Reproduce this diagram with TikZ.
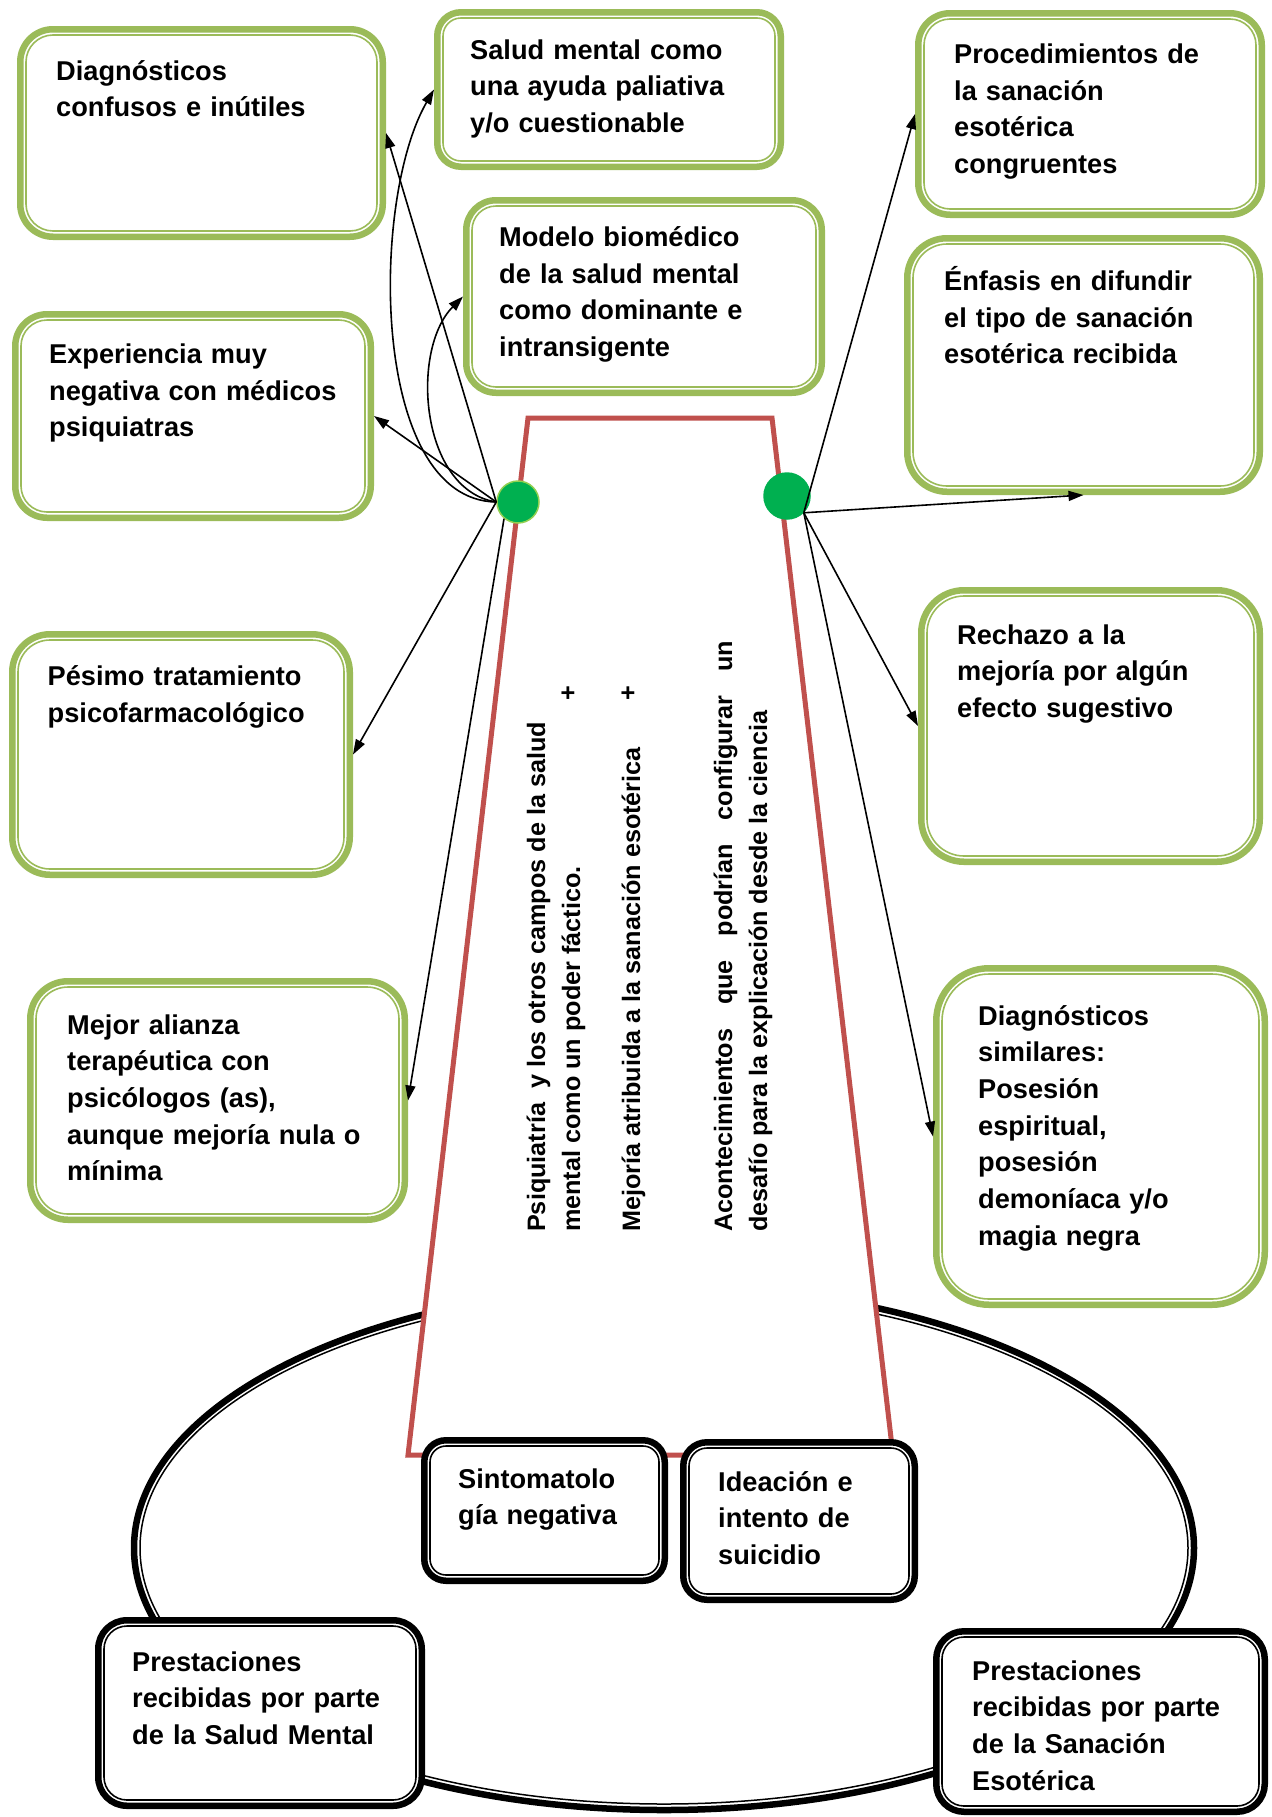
\documentclass[tikz,border=0pt]{standalone}
\usepackage{fontspec}
\setmainfont{Liberation Sans}
\usetikzlibrary{arrows.meta}

\definecolor{boxgreen}{HTML}{9BBB59}
\definecolor{framered}{HTML}{C0504D}
\definecolor{dotgreen}{HTML}{00B050}
\definecolor{dotrim}{HTML}{92D050}

\tikzset{
  panel/.style={draw=#1, fill=white, line width=6.5bp, inner sep=0pt, outer sep=3.25bp},
  txt/.style={anchor=base west, inner sep=0pt, text width=380bp, align=left,
    font=\fontsize{27.2bp}{36.7bp}\selectfont\bfseries},
  vtxt/.style={rotate=90, anchor=base west, inner sep=0pt,
    font=\fontsize{25.2bp}{30bp}\selectfont\bfseries},
  arr/.style={line width=1.6bp, -{Triangle[length=15bp,width=10bp]}},
  spot/.style={circle, fill=dotgreen, inner sep=0pt, line width=1.5bp},
}

% rounded box with a thick outer line and a thin inner line
% #1 colour, #2 name, #3 x1, #4 y1, #5 x2, #6 y2, #7 outer corner radius
\newcommand\framedbox[7]{%
  \node[panel=#1, minimum width={(#5-#3-6.5)*1bp}, minimum height={(#6-#4-6.5)*1bp},
        rounded corners={(#7-3.25)*1bp}] (#2) at ({(#3+#5)/2},{(#4+#6)/2}) {};
  \draw[draw=#1, line width=1.6bp, rounded corners={(#7-9)*1bp}]
    ({#3+9},{#4+9}) rectangle ({#5-9},{#6-9});
}

\begin{document}
\begin{tikzpicture}[x=1bp, y=-1bp]
\fill[white] (0,0) rectangle (1271,1817);
\useasboundingbox (0,0) rectangle (1271,1817);

% large double ellipse at the bottom
\draw[line width=6.5bp] (664,1548) ellipse [x radius=530, y radius=262];
\draw[line width=1.5bp] (664,1548) ellipse [x radius=524, y radius=256];

% red trapezoid
\draw[framered, line width=5bp, fill=white, miter limit=10]
  (528,418) -- (772,418) -- (893,1455) -- (408,1455) -- cycle;

% vertical text inside the trapezoid
\node[vtxt] (v1) at (545,1232) {Psiquiatría\ \ y los otros campos de la salud};
\node[vtxt] (v2) at (580,1232) {mental como un poder fáctico.};
\node[vtxt, anchor=center] (p1) at (569,693) {+};
\node[vtxt] (v3) at (640,1232) {Mejoría atribuida a la sanación esotérica};
\node[vtxt, anchor=center] (p2) at (629,693) {+};
\node[vtxt] (v4) at (732,1232) {\makebox[591bp][l]{Acontecimientos\hfill que\hfill podrían\hfill configurar\hfill un}};
\node[vtxt] (v5) at (767,1232) {desafío para la explicación desde la ciencia};

% black boxes
\framedbox{black}{b11}{421}{1437}{668}{1584}{25}
\framedbox{black}{b12}{680}{1439}{918}{1603}{27}
\framedbox{black}{b13}{95}{1617}{425}{1809}{32}
\framedbox{black}{b14}{933}{1628}{1268}{1815}{31}

% green boxes
\framedbox{boxgreen}{b1}{17}{26}{386}{240}{36}
\framedbox{boxgreen}{b2}{434}{9}{784}{170}{27}
\framedbox{boxgreen}{b3}{463}{197}{825}{396}{33}
\framedbox{boxgreen}{b4}{915}{10}{1265}{218}{35}
\framedbox{boxgreen}{b5}{904}{235}{1263}{495}{43}
\framedbox{boxgreen}{b6}{12}{311}{374}{521}{35}
\framedbox{boxgreen}{b7}{9}{631}{353}{878}{41}
\framedbox{boxgreen}{b8}{918}{587}{1263}{865}{46}
\framedbox{boxgreen}{b9}{27}{978}{408}{1223}{41}
\framedbox{boxgreen}{b10}{933}{965}{1268}{1308}{56}

% box texts
\node[txt] (t1) at (56,80) {Diagnósticos\\confusos e inútiles};
\node[txt] (t2) at (470,59) {Salud mental como\\una ayuda paliativa\\y/o cuestionable};
\node[txt] (t3) at (499,246.5) {Modelo biomédico\\de la salud mental\\como dominante e\\intransigente};
\node[txt] (t4) at (954,63.5) {Procedimientos de\\la sanación\\esotérica\\congruentes};
\node[txt] (t5) at (944,290.5) {Énfasis en difundir\\el tipo de sanación\\esotérica recibida};
\node[txt] (t6) at (49,363.5) {Experiencia muy\\negativa con médicos\\psiquiatras};
\node[txt] (t7) at (47.5,685.6) {Pésimo tratamiento\\psicofarmacológico};
\node[txt] (t8) at (957,644) {Rechazo a la\\mejoría por algún\\efecto sugestivo};
\node[txt] (t9) at (67,1034) {Mejor alianza\\terapéutica con\\psicólogos (as),\\aunque mejoría nula o\\mínima};
\node[txt] (t10) at (978,1025) {Diagnósticos\\similares:\\Posesión\\espiritual,\\posesión\\demoníaca y/o\\magia negra};
\node[txt] (t11) at (458,1488) {Sintomatolo\\gía negativa};
\node[txt] (t12) at (718,1491) {Ideación e\\intento de\\suicidio};
\node[txt] (t13) at (132,1671) {Prestaciones\\recibidas por parte\\de la Salud Mental};
\node[txt] (t14) at (972,1680) {Prestaciones\\recibidas por parte\\de la Sanación\\Esotérica};

% green spots on the trapezoid sides
\node[spot, draw=dotrim, minimum size=42bp] (ld) at (518,502) {};
\node[spot, draw=dotgreen, minimum size=46bp] (rd) at (787,496) {};

% connectors from the left spot
\draw[arr] (ld.west) -- (b1.east);
\draw[arr] (ld.west) .. controls (370,500) and (370,200) .. (b2.west);
\draw[arr] (ld.west) .. controls (420,490) and (410,350) .. (b3.west);
\draw[arr] (ld.west) -- (b6.east);
\draw[arr] (ld.west) -- (b7.east);
\draw[arr] (ld.230) -- (b9.east);

% connectors from the right spot
\draw[arr] (rd.south east) -- (b4.west);
\draw[arr] (rd.south east) -- (b5.south);
\draw[arr] (rd.south east) -- (b8.west);
\draw[arr] (rd.south east) -- (b10.west);
\end{tikzpicture}
\end{document}
